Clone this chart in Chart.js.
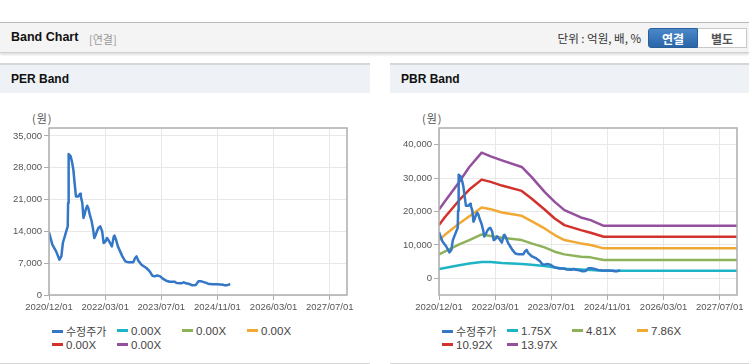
<!DOCTYPE html>
<html>
<head>
<meta charset="utf-8">
<script src="https://cdn.jsdelivr.net/npm/chart.js@4/dist/chart.umd.min.js"></script>
<style>
  body { margin: 0; width: 749px; height: 364px; overflow: hidden; background: #fff; position: relative;
         font-family: "Liberation Sans", "Noto Sans CJK KR", sans-serif; }
  .topline { position: absolute; left: 0; top: 22px; width: 749px; height: 1px; background: #b9b9b9; }
  .header { position: absolute; left: 0; top: 23px; width: 749px; height: 29px; background: #f4f4f4;
            border-bottom: 1px solid #cfcfcf; box-shadow: 0 2px 2px rgba(0,0,0,0.12); }
  .title { position: absolute; left: 11px; top: 30px; font-size: 12.5px; font-weight: bold; color: #111; }
  .sub { position: absolute; left: 89px; top: 31px; font-size: 11px; color: #999; font-family: "Noto Sans CJK KR", sans-serif; }
  .unit { position: absolute; right: 108px; top: 30px; font-size: 11.5px; color: #333; font-family: "Noto Sans CJK KR", sans-serif; }
  .btn { position: absolute; top: 28px; height: 20px; line-height: 20px; text-align: center; font-size: 12px; font-weight: bold;
         font-family: "Noto Sans CJK KR", sans-serif; box-sizing: border-box; }
  .btn.on { left: 648px; width: 50px; color: #fff; background: linear-gradient(#4a88c9, #2a66a8); border: 1px solid #2a5f9c; border-radius: 3px 0 0 3px; }
  .btn.off { left: 698px; width: 49px; color: #555; background: #fff; border: 1px solid #c8c8c8; border-left: none; }
  .panel { position: absolute; top: 63px; width: 370px; height: 298px; border-top: 2px solid #d6d6d6; border-bottom: 1px solid #d6d6d6; background: #fff; }
  .phead { position: absolute; left: 0; top: 0; width: 100%; height: 28px; background: #eef1f6; }
  .ptitle { position: absolute; left: 11px; top: 7px; font-size: 12px; font-weight: bold; color: #111; }
  .won { position: absolute; left: 32px; top: 45px; font-size: 11px; color: #555; font-family: "Noto Sans CJK KR", sans-serif; letter-spacing: 1px; }
  .cwrap { position: absolute; left: 0; top: 30px; width: 370px; height: 225px; }
  .legend { position: absolute; left: 52px; top: 259px; width: 300px; }
  .li { position: absolute; height: 14px; line-height: 14px; font-size: 11.5px; color: #444; white-space: nowrap; }
  .li i { display: inline-block; width: 11px; height: 3px; vertical-align: middle; margin-right: 3px; margin-top: -2px; }
  .li .ko { font-family: "Noto Sans CJK KR", sans-serif; font-size: 11px; }
</style>
</head>
<body>
<div class="topline"></div>
<div class="header"></div>
<div class="title">Band Chart</div>
<div class="sub">[연결]</div>
<div class="unit">단위 : 억원, 배, %</div>
<div class="btn on">연결</div>
<div class="btn off">별도</div>

<div class="panel" style="left:0">
  <div class="phead"></div><div class="ptitle">PER Band</div>
  <div class="won">(원)</div>
  <div class="cwrap"><canvas id="perChart" width="370" height="225"></canvas></div>
  <div class="legend" id="perLegend"></div>
</div>
<div class="panel" style="left:390px">
  <div class="phead"></div><div class="ptitle">PBR Band</div>
  <div class="won">(원)</div>
  <div class="cwrap"><canvas id="pbrChart" width="370" height="225"></canvas></div>
  <div class="legend" id="pbrLegend"></div>
</div>

<script>
// x values are months counted from 2020/12/01
var xTickMonths = [0, 15, 30, 45, 60, 75];
var xTickLabels = ['2020/12/01', '2022/03/01', '2023/07/01', '2024/11/01', '2026/03/01', '2027/07/01'];

var priceMonths = [0, 0.9, 1.9, 2.8, 3.3, 3.7, 4.6, 5.0, 5.1, 5.2, 5.3, 5.8, 6.2, 6.5, 6.8, 7.2, 7.8, 8.3, 8.5, 8.9,
  9.2, 9.5, 9.8, 10.2, 10.5, 10.9, 11.4, 11.8, 12.1, 12.5, 12.9, 13.3, 13.7, 14.2, 14.6, 15.1, 15.5, 16.0, 16.4, 16.8,
  17.3, 17.5, 17.9, 18.4, 19.0, 19.6, 20.4, 21.2, 22.5, 23.0, 23.4, 23.8, 24.7, 26.0, 26.9, 27.6, 28.2, 28.9, 29.7, 30.4,
  31.3, 32.2, 33.5, 34.1, 35.3, 36.0, 36.6, 37.5, 38.3, 39.2, 39.9, 40.7, 41.6, 42.5, 43.6, 44.9, 46.5, 46.9, 47.5, 48.0, 48.4];
var priceValues = [13770, 11070, 9600, 7770, 8500, 11440, 14000, 15100, 20240, 25740, 31020, 30500, 29040, 27570, 25000, 21700, 21700, 22290, 21700, 20240,
  16940, 17670, 18770, 19650, 19140, 17670, 16200, 14370, 12540, 13270, 14220, 14870, 15090, 14000, 11440, 11800, 12540, 11950, 11290, 10700,
  12900, 13050, 12170, 10700, 9600, 8500, 7400, 7180, 7180, 8140, 8500, 7620, 6670, 5940, 5200, 4250, 4100, 4320, 4100, 3590,
  3150, 2930, 2930, 2640, 2570, 2780, 2570, 2420, 2130, 2200, 3000, 3000, 2780, 2490, 2350, 2350, 2270, 2130, 2130, 2270, 2420];

var bandMonths = [0, 1.5, 5.4, 8.1, 11.4, 13.8, 16.8, 22.1, 24.7, 28.2, 30.9, 33.5, 37.9, 40.5, 44.0, 79.6];
var pbr175 = [2790, 3100, 3880, 4400, 4880, 4880, 4580, 4280, 4050, 3680, 3250, 2890, 2650, 2490, 2290, 2290];
var pbr481 = [7160, 7960, 10150, 11440, 13130, 12640, 12140, 11440, 10450, 9250, 7960, 7160, 6470, 6270, 5470, 5470];
var pbr786 = [11440, 12940, 16420, 18610, 21190, 20700, 19700, 18710, 17110, 14930, 12940, 11440, 10450, 9950, 8960, 8960];
var pbr1092 = [15920, 18210, 23380, 26570, 29550, 28860, 27760, 26170, 23880, 20600, 17910, 15920, 14430, 13630, 12440, 12440];
var pbr1397 = [20600, 22890, 28860, 33330, 37610, 36520, 35320, 33330, 30350, 25870, 22890, 20400, 18210, 17410, 15720, 15720];

var seriesColors = ['#3377c6', '#1eb4c6', '#8db25a', '#f0a935', '#d1322c', '#94509d'];
var perLabels = ['수정주가', '0.00X', '0.00X', '0.00X', '0.00X', '0.00X'];
var pbrLabels = ['수정주가', '1.75X', '4.81X', '7.86X', '10.92X', '13.97X'];

var perYTicks = [0, 7000, 14000, 21000, 28000, 35000];
var pbrYTicks = [0, 10000, 20000, 30000, 40000];

function pts(xs, ys) {
  return xs.map(function(x, i) { return { x: x, y: ys[i] }; });
}

var frame = {
  id: 'frame',
  afterDraw: function(chart) {
    var a = chart.chartArea, c = chart.ctx;
    c.save();
    c.strokeStyle = '#adadad';
    c.lineWidth = 1.5;
    c.strokeRect(a.left, a.top, a.right - a.left, a.bottom - a.top);
    c.restore();
  }
};

var tickFont = { family: '"Liberation Sans", Arial', size: 9.5 };

function makeChart(id, datasets, yMin, yMax, yTicks) {
  return new Chart(document.getElementById(id).getContext('2d'), {
    type: 'line',
    data: { datasets: datasets },
    options: {
      responsive: false,
      animation: false,
      layout: { padding: { top: 33, right: 23, left: 0, bottom: 0 } },
      plugins: { legend: { display: false }, tooltip: { enabled: false } },
      elements: { point: { radius: 0 }, line: { tension: 0, borderJoinStyle: 'round' } },
      scales: {
        x: {
          type: 'linear', min: 0, max: 79.6,
          afterBuildTicks: function(s) { s.ticks = xTickMonths.map(function(v) { return { value: v }; }); },
          afterFit: function(s) { s.height = 25; },
          grid: { color: '#e8e8e8', tickColor: '#adadad', tickLength: 5 },
          border: { display: false },
          ticks: {
            padding: 2, maxRotation: 0, autoSkip: false, color: '#555', font: tickFont,
            callback: function(v) { return xTickLabels[xTickMonths.indexOf(v)]; }
          }
        },
        y: {
          min: yMin, max: yMax,
          afterBuildTicks: function(s) { s.ticks = yTicks.map(function(v) { return { value: v }; }); },
          afterFit: function(s) { s.width = 49; },
          grid: { color: '#e8e8e8', tickColor: '#adadad', tickLength: 5 },
          border: { display: false },
          ticks: {
            padding: 2, color: '#555', font: tickFont,
            callback: function(v) { return v.toLocaleString('en-US'); }
          }
        }
      }
    },
    plugins: [frame]
  });
}

function line(label, color, data, w) {
  return { label: label, data: data, borderColor: color, backgroundColor: color, borderWidth: w, fill: false };
}

makeChart('perChart', [
  line(perLabels[0], seriesColors[0], pts(priceMonths, priceValues), 2.5),
  line(perLabels[1], seriesColors[1], [], 2.5),
  line(perLabels[2], seriesColors[2], [], 2.5),
  line(perLabels[3], seriesColors[3], [], 2.5),
  line(perLabels[4], seriesColors[4], [], 2.5),
  line(perLabels[5], seriesColors[5], [], 2.5)
], 0, 36750, perYTicks);

makeChart('pbrChart', [
  line(pbrLabels[0], seriesColors[0], pts(priceMonths, priceValues), 2.5),
  line(pbrLabels[1], seriesColors[1], pts(bandMonths, pbr175), 2.5),
  line(pbrLabels[2], seriesColors[2], pts(bandMonths, pbr481), 2.5),
  line(pbrLabels[3], seriesColors[3], pts(bandMonths, pbr786), 2.5),
  line(pbrLabels[4], seriesColors[4], pts(bandMonths, pbr1092), 2.5),
  line(pbrLabels[5], seriesColors[5], pts(bandMonths, pbr1397), 2.5)
], -5000, 45000, pbrYTicks);

function legend(id, labels) {
  var box = document.getElementById(id);
  labels.forEach(function(l, i) {
    var d = document.createElement('div');
    d.className = 'li';
    d.style.left = ((i % 4) * 65) + 'px';
    d.style.top = (Math.floor(i / 4) * 13.5) + 'px';
    var txt = /[가-힣]/.test(l) ? '<span class="ko">' + l + '</span>' : l;
    d.innerHTML = '<i style="background:' + seriesColors[i] + '"></i>' + txt;
    box.appendChild(d);
  });
}
legend('perLegend', perLabels);
legend('pbrLegend', pbrLabels);
</script>
</body>
</html>
